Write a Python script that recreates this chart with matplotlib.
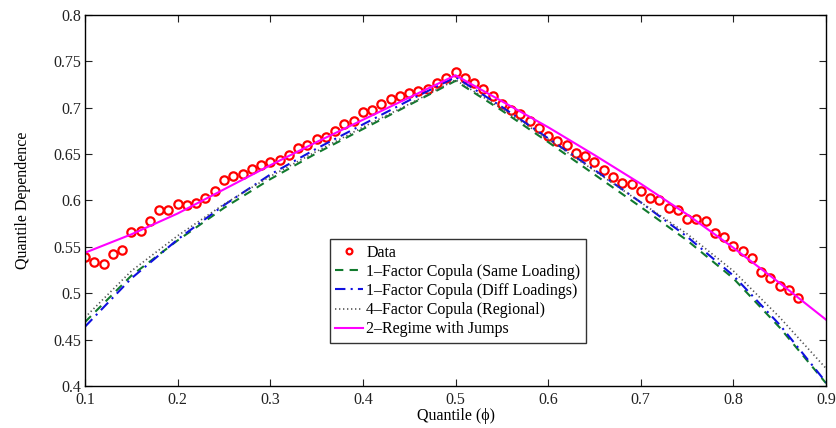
import numpy as np
import matplotlib
matplotlib.use("Agg")
import matplotlib.pyplot as plt

plt.rcParams['font.family'] = ['Liberation Serif', 'DejaVu Serif']
plt.rcParams['mathtext.fontset'] = 'dejavuserif'

# Empirical quantile dependence (points every 0.01)
q_data = [round(0.10 + 0.01 * i, 2) for i in range(78)]
dep_data = [
    0.539, 0.534, 0.531, 0.542, 0.547, 0.566, 0.567, 0.578, 0.590, 0.590,
    0.596, 0.595, 0.597, 0.603, 0.610, 0.622, 0.626, 0.629, 0.634, 0.638,
    0.642, 0.644, 0.649, 0.657, 0.660, 0.666, 0.668, 0.675, 0.683, 0.686,
    0.695, 0.698, 0.704, 0.709, 0.713, 0.716, 0.718, 0.720, 0.727, 0.732,
    0.738, 0.732, 0.727, 0.720, 0.713, 0.704, 0.698, 0.693, 0.686, 0.678,
    0.670, 0.664, 0.660, 0.651, 0.648, 0.642, 0.633, 0.625, 0.619, 0.618,
    0.610, 0.603, 0.600, 0.592, 0.590, 0.580, 0.580, 0.578, 0.565, 0.561,
    0.551, 0.546, 0.538, 0.523, 0.516, 0.508, 0.504, 0.495,
]

# Model-implied quantile dependence
q_model = [0.10, 0.15, 0.20, 0.25, 0.30, 0.35, 0.40, 0.45, 0.50,
           0.55, 0.60, 0.65, 0.70, 0.75, 0.80, 0.85, 0.90]
same_loading = [0.469, 0.519, 0.557, 0.592, 0.623, 0.651, 0.677, 0.703, 0.729,
                0.697, 0.663, 0.628, 0.593, 0.557, 0.516, 0.463, 0.403]
diff_loadings = [0.464, 0.516, 0.558, 0.595, 0.628, 0.656, 0.682, 0.708, 0.733,
                 0.701, 0.667, 0.633, 0.598, 0.561, 0.519, 0.466, 0.404]
regional = [0.474, 0.524, 0.562, 0.596, 0.626, 0.653, 0.679, 0.704, 0.730,
            0.699, 0.666, 0.632, 0.598, 0.564, 0.524, 0.474, 0.419]
regime_jumps = [0.5437, 0.5635, 0.586, 0.612, 0.638, 0.663, 0.687, 0.711, 0.735,
                0.707, 0.679, 0.649, 0.618, 0.585, 0.549, 0.511, 0.4715]

x_ticks = [0.1, 0.2, 0.3, 0.4, 0.5, 0.6, 0.7, 0.8, 0.9]
y_ticks = [0.4, 0.45, 0.5, 0.55, 0.6, 0.65, 0.7, 0.75, 0.8]

fig = plt.figure(figsize=(8.37, 4.28), dpi=100)
ax = fig.add_axes([0.1016, 0.0981, 0.8853, 0.8669])

ax.plot(q_data, dep_data, linestyle='none', marker='o', markersize=6,
        markerfacecolor='none', markeredgecolor='red', markeredgewidth=1.6,
        label='Data')
ax.plot(q_model, same_loading, linestyle='--', color='#117a2e', lw=1.5,
        dashes=(4, 3), label='1\u2013Factor Copula (Same Loading)')
ax.plot(q_model, diff_loadings, linestyle='-.', color='#1010e0', lw=1.5,
        dashes=(5, 2.5, 1, 2.5), label='1\u2013Factor Copula (Diff Loadings)')
ax.plot(q_model, regional, linestyle=':', color='#555555', lw=1.2,
        dashes=(0.8, 1.6), label='4\u2013Factor Copula (Regional)')
ax.plot(q_model, regime_jumps, linestyle='-', color='magenta', lw=1.5,
        label='2\u2013Regime with Jumps')

ax.set_xlim(0.1, 0.9)
ax.set_ylim(0.4, 0.8)
ax.set_xticks(x_ticks)
ax.set_yticks(y_ticks)
ax.set_xticklabels([f"{v:g}" for v in x_ticks])
ax.set_yticklabels([f"{v:g}" for v in y_ticks])
ax.tick_params(direction='in', length=5, width=0.8, top=True, right=True,
               labelsize=11.5, colors='#222222')
ax.tick_params(axis='x', pad=4)
ax.tick_params(axis='y', pad=3)
for s in ax.spines.values():
    s.set_linewidth(1.0)

ax.set_xlabel('Quantile (\u03d5)', fontsize=11.5, labelpad=0)
ax.set_ylabel('Quantile Dependence', fontsize=11.5, labelpad=16)

leg = ax.legend(loc='center', bbox_to_anchor=(0.503, 0.256), fontsize=11.5,
                frameon=True, fancybox=False, edgecolor='black',
                handlelength=1.75, handletextpad=0.2, borderpad=0.35,
                labelspacing=0.2, borderaxespad=0, numpoints=1,
                markerscale=0.7)
leg.get_frame().set_linewidth(1.0)

fig.savefig('out.png', dpi=100, facecolor='white')
